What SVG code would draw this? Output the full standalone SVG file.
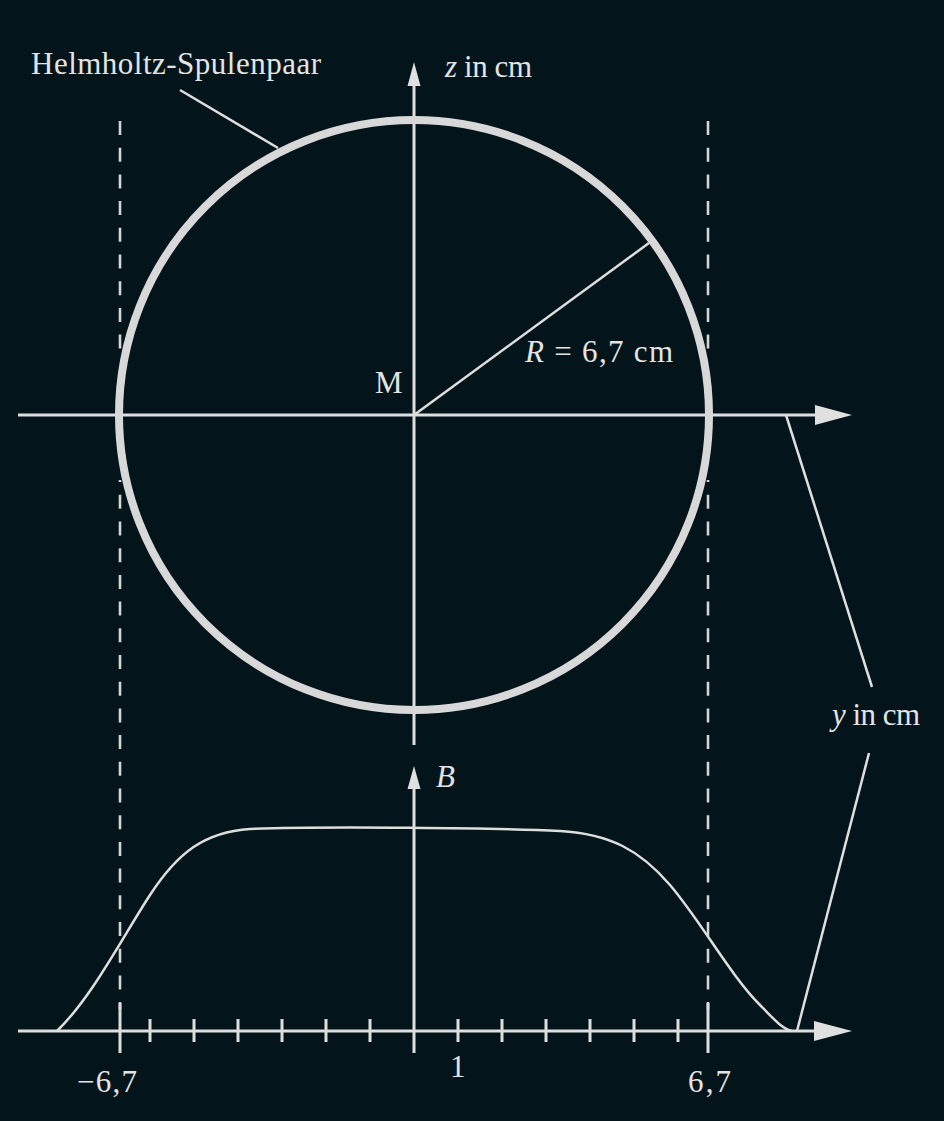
<svg xmlns="http://www.w3.org/2000/svg" width="944" height="1121" viewBox="0 0 944 1121">
<defs>
<style>
.ln{stroke:#dedede;stroke-width:3;fill:none;stroke-linecap:butt}
.ld{stroke:#dedede;stroke-width:2.5;fill:none}
.dash{stroke:#d4d4d4;stroke-width:2.6;fill:none;stroke-dasharray:14 12.7}
.ah{fill:#e0e0e0;stroke:none}
.t{font-family:"Liberation Serif","Times New Roman",serif;fill:#e4e4e4;font-size:31px}
.i{font-style:italic}
</style>
</defs>
<rect width="944" height="1121" fill="#03141a"/>
<g id="guides">
<line class="dash" x1="120" y1="121" x2="120" y2="352"/>
<line class="dash" x1="120" y1="480" x2="120" y2="1010" style="stroke-dashoffset:11.9"/>
<line class="dash" x1="708" y1="121" x2="708" y2="352"/>
<line class="dash" x1="708" y1="480" x2="708" y2="1010" style="stroke-dashoffset:11.9"/>
</g>
<g id="connectors">
<line class="ln" x1="18" y1="415" x2="818" y2="415"/>
<polygon class="ah" points="852,415 815,405 815,425"/>
<line class="ln" x1="414" y1="745" x2="414" y2="82"/>
<polygon class="ah" points="414,62 407.5,86 420.5,86"/>
<line class="ld" x1="414" y1="415" x2="649" y2="243"/>
<line class="ld" x1="180" y1="90" x2="278" y2="148"/>
<line class="ld" x1="786" y1="415" x2="872" y2="687"/>
<line class="ld" x1="869" y1="753" x2="797" y2="1031"/>
</g>
<g id="coil">
<circle cx="414" cy="415" r="295" fill="none" stroke="#d8d8d8" stroke-width="8"/>
</g>
<g id="plot">
<line class="ln" x1="18" y1="1031" x2="817" y2="1031"/>
<polygon class="ah" points="852,1031 814,1021 814,1041"/>
<line class="ln" x1="414" y1="1053" x2="414" y2="786"/>
<polygon class="ah" points="414,766 407.5,789 420.5,789"/>
<path class="ln" d="M120,1003V1053M708,1003V1053M150,1019V1042M194,1019V1042M238,1019V1042M282,1019V1042M326,1019V1042M370,1019V1042M458,1019V1042M502,1019V1042M546,1019V1042M590,1019V1042M634,1019V1042M678,1019V1042"/>
<path class="ld" d="M57,1031 C92,997 122,938 150,895 C178,852 205,832 250,829 C320,826 500,828 560,831 C610,834 640,850 670,885 C700,920 730,975 760,1005 C775,1020 782,1029 792,1031"/>
</g>
<g id="labels">
<text class="t" x="31" y="74" textLength="290" font-family="Liberation Serif, serif">Helmholtz-Spulenpaar</text>
<text class="t" x="445" y="76.5" textLength="87" font-family="Liberation Serif, serif"><tspan class="i">z</tspan> in cm</text>
<text class="t" x="525" y="362" textLength="148" font-family="Liberation Serif, serif"><tspan class="i">R</tspan> = 6,7 cm</text>
<text class="t" x="375" y="393" textLength="25" font-family="Liberation Serif, serif">M</text>
<text class="t i" x="436" y="787" textLength="20" font-family="Liberation Serif, serif">B</text>
<text class="t" x="832" y="725" textLength="88" font-family="Liberation Serif, serif"><tspan class="i">y</tspan> in cm</text>
<text class="t" x="77" y="1092" textLength="60" font-family="Liberation Serif, serif">−6,7</text>
<text class="t" x="450" y="1077" font-family="Liberation Serif, serif">1</text>
<text class="t" x="688" y="1092" textLength="43" font-family="Liberation Serif, serif">6,7</text>
</g>
</svg>
